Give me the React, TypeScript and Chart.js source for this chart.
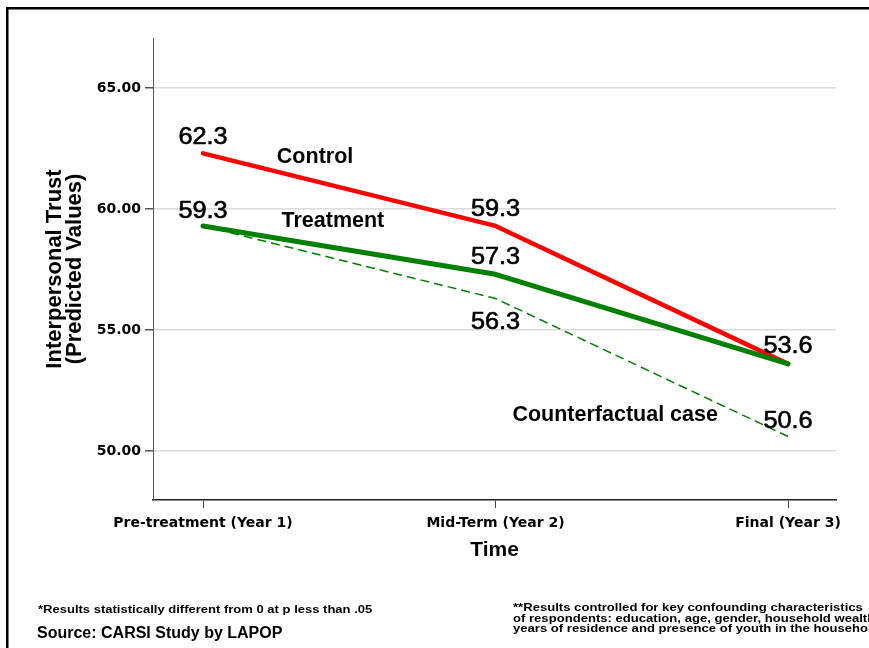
import React, { useEffect, useRef } from "react";
import { Chart, registerables } from "chart.js";

Chart.register(...registerables);

const categories = ["Pre-treatment (Year 1)", "Mid-Term (Year 2)", "Final (Year 3)"];
const controlValues = [62.3, 59.3, 53.6];
const treatmentValues = [59.3, 57.3, 53.6];
const counterfactualValues = [59.3, 56.3, 50.6];
const yTickValues = [50, 55, 60, 65];

// pixel offsets of the value labels from their points (null = not shown)
const controlLabelDy = [-16, -16, null];
const treatmentLabelDy = [-14, -16.5, -17];
const counterfactualLabelDy = [null, 24, -14.5];

// series name labels, placed in data coordinates
const seriesNames = ["Control", "Treatment", "Counterfactual case"];
const seriesNameX = [0.383, 0.444, 1.409];
const seriesNameY = [62.15, 59.5, 51.49];

const footLeft = ["*Results statistically different from 0 at p less than .05"];
const sourceText = "Source: CARSI Study by LAPOP";
const footRight = [
  "**Results controlled for key confounding characteristics",
  "of respondents: education, age, gender, household wealth,",
  "years of residence and presence of youth in the household",
];

const SANS = '"Liberation Sans", Arial, Helvetica, sans-serif';
const WIDE = '"DejaVu Sans", Verdana, sans-serif';

const toPoints = (vals: number[]) => vals.map((v, i) => ({ x: i, y: v }));

const annotatePlugin = {
  id: "annotate",
  afterDatasetsDraw(chart: any) {
    const { ctx } = chart;
    const xs = chart.scales.x;
    const ys = chart.scales.y;
    ctx.save();
    ctx.fillStyle = "#000";
    ctx.strokeStyle = "#000";
    ctx.lineWidth = 0.6;
    ctx.textAlign = "center";
    ctx.textBaseline = "middle";
    ctx.font = `23px ${SANS}`;
    const groups = [
      { vals: controlValues, dy: controlLabelDy },
      { vals: treatmentValues, dy: treatmentLabelDy },
      { vals: counterfactualValues, dy: counterfactualLabelDy },
    ];
    groups.forEach((g) => {
      g.vals.forEach((v, i) => {
        const d = g.dy[i];
        if (d === null || d === undefined) return;
        const px = xs.getPixelForValue(i);
        const py = ys.getPixelForValue(v) + d;
        ctx.save();
        ctx.translate(px, py);
        ctx.scale(1.1, 1);
        ctx.fillText(v.toFixed(1), 0, 0);
        ctx.strokeText(v.toFixed(1), 0, 0);
        ctx.restore();
      });
    });
    ctx.font = `bold 21.5px ${SANS}`;
    seriesNames.forEach((name, i) => {
      ctx.fillText(name, xs.getPixelForValue(seriesNameX[i]), ys.getPixelForValue(seriesNameY[i]));
    });
    ctx.restore();
  },
  afterDraw(chart: any) {
    const { ctx, width, height } = chart;
    ctx.save();
    // frame
    ctx.strokeStyle = "#000";
    ctx.lineWidth = 2.5;
    ctx.beginPath();
    ctx.moveTo(7.25, height + 2);
    ctx.lineTo(7.25, 8.25);
    ctx.lineTo(width + 2, 8.25);
    ctx.stroke();
    // footnotes
    ctx.fillStyle = "#000";
    ctx.textAlign = "left";
    ctx.textBaseline = "alphabetic";
    ctx.font = `bold 10.5px ${SANS}`;
    footLeft.forEach((t, i) => {
      ctx.save();
      ctx.translate(38, 613 + i * 10);
      ctx.scale(1.24, 1);
      ctx.fillText(t, 0, 0);
      ctx.restore();
    });
    ctx.font = `bold 11px ${SANS}`;
    footRight.forEach((t, i) => {
      ctx.save();
      ctx.translate(513, 611 + i * 10.5);
      ctx.scale(1.19, 1);
      ctx.fillText(t, 0, 0);
      ctx.restore();
    });
    ctx.font = `bold 16px ${SANS}`;
    ctx.fillText(sourceText, 37, 638);
    ctx.restore();
  },
};

export default function App() {
  const ref = useRef<HTMLCanvasElement | null>(null);
  useEffect(() => {
    if (!ref.current) return;
    const chart = new Chart(ref.current, {
      type: "line",
      data: {
        datasets: [
          {
            label: "Treatment",
            data: toPoints(treatmentValues),
            borderColor: "#008000",
            backgroundColor: "#008000",
            borderWidth: 5,
            pointRadius: 0,
            borderCapStyle: "round",
            borderJoinStyle: "round",
          },
          {
            label: "Control",
            data: toPoints(controlValues),
            borderColor: "#ff0000",
            backgroundColor: "#ff0000",
            borderWidth: 4.5,
            pointRadius: 0,
            borderCapStyle: "round",
            borderJoinStyle: "round",
          },
          {
            label: "Counterfactual case",
            data: toPoints(counterfactualValues),
            borderColor: "#008000",
            backgroundColor: "#008000",
            borderWidth: 1.5,
            borderDash: [9, 5],
            pointRadius: 0,
          },
        ],
      },
      options: {
        animation: false,
        responsive: false,
        devicePixelRatio: 1,
        layout: { padding: { top: 38, right: 33, bottom: 78, left: 0 } },
        plugins: {
          legend: { display: false },
          tooltip: { enabled: false },
        },
        scales: {
          x: {
            type: "linear",
            min: -0.171,
            max: 2.164,
            afterBuildTicks: (scale: any) => {
              scale.ticks = categories.map((_, i) => ({ value: i }));
            },
            afterFit: (scale: any) => {
              scale.height = 70;
            },
            ticks: {
              callback: (v: any) => categories[v] ?? "",
              color: "#000",
              font: { family: WIDE, size: 14, weight: "bold" },
              padding: 7,
              maxRotation: 0,
              autoSkip: false,
            },
            grid: {
              drawOnChartArea: false,
              drawTicks: true,
              tickLength: 8,
              tickColor: "#444",
            },
            border: { display: true, color: "#222", width: 1.5 },
            title: {
              display: true,
              text: "Time",
              color: "#000",
              font: { family: SANS, size: 21, weight: "bold", lineHeight: 1.2 },
              padding: { top: 0, bottom: 7.4 },
            },
          },
          y: {
            type: "linear",
            min: 47.975,
            max: 67.066,
            afterBuildTicks: (scale: any) => {
              scale.ticks = yTickValues.map((v) => ({ value: v }));
            },
            afterFit: (scale: any) => {
              scale.width = 153;
            },
            ticks: {
              callback: (v: any) => Number(v).toFixed(2),
              color: "#000",
              font: { family: WIDE, size: 14, weight: "bold" },
              padding: 4,
            },
            grid: {
              color: "#dcdcdc",
              lineWidth: 1.5,
              drawTicks: true,
              tickLength: 8,
              tickColor: "#555",
            },
            border: { display: true, color: "#555", width: 1 },
            title: {
              display: true,
              text: ["Interpersonal Trust", "(Predicted Values)"],
              color: "#000",
              font: { family: SANS, size: 22, weight: "bold", lineHeight: 0.92 },
              padding: { top: 45, bottom: 0 },
            },
          },
        },
      },
      plugins: [annotatePlugin],
    } as any);
    return () => chart.destroy();
  }, []);
  return (
    <div style={{ position: "fixed", left: 0, top: 0, width: 869, height: 648, background: "#fff" }}>
      <canvas ref={ref} width={869} height={648} style={{ display: "block" }} />
    </div>
  );
}
